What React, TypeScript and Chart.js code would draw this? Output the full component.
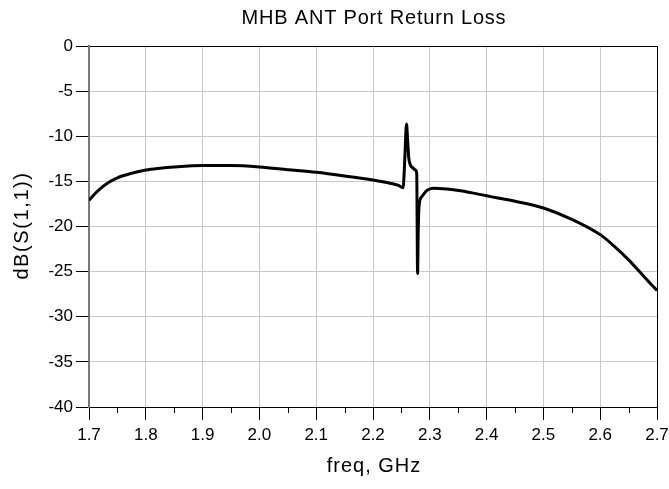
import React, { useEffect, useRef } from "react";
import { Chart, registerables } from "chart.js";

Chart.register(...registerables);

const chartTitle = "MHB ANT Port Return Loss";
const xTitle = "freq, GHz";
const yTitle = "dB(S(1,1))";

const freqGHz = [
  1.7, 1.71, 1.72, 1.735, 1.75, 1.775, 1.8, 1.825, 1.85, 1.875, 1.9, 1.95, 2.0, 2.05, 2.1, 2.15, 2.2,
  2.23, 2.245, 2.253, 2.256, 2.259, 2.261, 2.263, 2.266, 2.27, 2.275, 2.277, 2.2785, 2.2795, 2.281,
  2.286, 2.295, 2.306, 2.33, 2.354, 2.4, 2.42, 2.45, 2.5, 2.55, 2.6, 2.625, 2.65, 2.675, 2.7,
];
const s11dB = [
  -17.1, -16.4, -15.8, -15.1, -14.6, -14.1, -13.75, -13.55, -13.4, -13.3, -13.25, -13.25, -13.4,
  -13.7, -14.0, -14.4, -14.85, -15.2, -15.45, -15.7, -12.5, -8.65, -10.5, -12.4, -13.2, -13.5, -13.75,
  -14.2, -25.2, -21.0, -17.8, -16.7, -16.0, -15.75, -15.85, -16.05, -16.6, -16.85, -17.2, -17.95,
  -19.2, -20.9, -22.2, -23.7, -25.4, -27.1,
];

const xMin = 1.7;
const xMax = 2.7;
const xStep = 0.1;
const xMinorTicks = [1.75, 1.85, 1.95, 2.05, 2.15, 2.25, 2.35, 2.45, 2.55, 2.65];
const yMin = -40;
const yMax = 0;
const yStep = 5;

const FONT = "'Liberation Sans', Arial, Helvetica, sans-serif";

export default function App() {
  const ref = useRef<HTMLCanvasElement | null>(null);

  useEffect(() => {
    if (!ref.current) return;

    const decorPlugin = {
      id: "decor",
      afterDraw(chart: any) {
        const ctx = chart.ctx;
        const xs = chart.scales.x;
        const area = chart.chartArea;
        ctx.save();
        // minor ticks on x axis
        ctx.strokeStyle = "#000";
        ctx.lineWidth = 1;
        xMinorTicks.forEach((v) => {
          const px = Math.round(xs.getPixelForValue(v)) + 0.5;
          ctx.beginPath();
          ctx.moveTo(px, area.bottom);
          ctx.lineTo(px, area.bottom + 6);
          ctx.stroke();
        });
        // titles
        ctx.fillStyle = "#000";
        ctx.textAlign = "center";
        ctx.textBaseline = "middle";
        ctx.font = `20px ${FONT}`;
        const cx = (area.left + area.right) / 2;
        (ctx as any).letterSpacing = "0.8px";
        ctx.fillText(chartTitle, cx + 1, 18);
        (ctx as any).letterSpacing = "1px";
        ctx.fillText(xTitle, cx + 1, 466);
        ctx.save();
        ctx.translate(22, (area.top + area.bottom) / 2);
        ctx.rotate(-Math.PI / 2);
        (ctx as any).letterSpacing = "1.6px";
        ctx.fillText(yTitle, 1, 0);
        ctx.restore();
        (ctx as any).letterSpacing = "0px";
        ctx.restore();
      },
    };

    const near = (a: number, b: number) => Math.abs(a - b) < 1e-6;

    const chart = new Chart(ref.current, {
      type: "line",
      data: {
        datasets: [
          {
            data: freqGHz.map((f, i) => ({ x: f, y: s11dB[i] })),
            borderColor: "#000",
            borderWidth: 3,
            pointRadius: 0,
            cubicInterpolationMode: "monotone",
            fill: false,
          },
        ],
      },
      options: {
        animation: false,
        responsive: false,
        layout: { padding: { left: 0, right: 12, top: 46, bottom: 0 } },
        plugins: {
          legend: { display: false },
          tooltip: { enabled: false },
          title: { display: false },
        },
        scales: {
          x: {
            type: "linear",
            min: xMin,
            max: xMax,
            afterFit(scale: any) {
              scale.height = 82;
              scale.paddingRight = 0;
              scale.paddingLeft = 0;
            },
            ticks: {
              stepSize: xStep,
              color: "#000",
              font: { family: FONT, size: 17 },
              padding: 5,
              maxRotation: 0,
              callback: (v: any) => Number(v).toFixed(1),
            },
            grid: {
              color: (c: any) =>
                near(c.tick?.value, xMax) ? "#000" : near(c.tick?.value, xMin) ? "#777" : "#c8c8c8",
              lineWidth: 1,
              tickColor: "#000",
              tickLength: 13,
            },
            border: { color: "#000", width: 1 },
          },
          y: {
            type: "linear",
            min: yMin,
            max: yMax,
            afterFit(scale: any) {
              scale.width = 89;
              scale.paddingTop = 0;
              scale.paddingBottom = 0;
            },
            ticks: {
              stepSize: yStep,
              color: "#000",
              font: { family: FONT, size: 17 },
              padding: 3,
            },
            grid: {
              color: (c: any) =>
                near(c.tick?.value, yMax) || near(c.tick?.value, yMin) ? "#000" : "#c8c8c8",
              lineWidth: 1,
              tickColor: "#000",
              tickLength: 13,
            },
            border: { color: "#777", width: 2 },
          },
        },
      },
      plugins: [decorPlugin],
    } as any);
    return () => chart.destroy();
  }, []);

  return (
    <div style={{ position: "absolute", left: 0, top: 0, width: 669, height: 489, background: "#fff" }}>
      <canvas ref={ref} width={669} height={489} />
    </div>
  );
}
